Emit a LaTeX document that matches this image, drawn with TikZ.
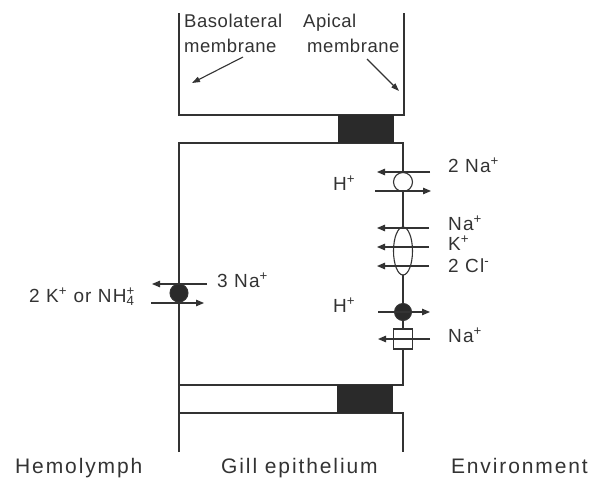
\documentclass[tikz,border=0pt]{standalone}
\usepackage{fontspec}
\setmainfont{Liberation Sans}
\usetikzlibrary{arrows.meta,shapes.geometric}
\definecolor{ink}{HTML}{333333}
\definecolor{junc}{HTML}{2A2A2A}
\newcommand{\sps}[1]{\textsuperscript{#1}}
\begin{document}
\begin{tikzpicture}[x=1pt,y=-1pt,
  line/.style={draw=ink,line width=1.2pt},
  arr/.style={draw=ink,line width=1.1pt,-{Triangle[length=8pt,width=6.5pt]}},
  pointer/.style={draw=ink,line width=1.1pt,-{Triangle[length=8pt,width=5.5pt]}},
  tj/.style={fill=junc},
  lab/.style={inner sep=0pt,text=ink,font=\fontsize{19}{24}\selectfont\addfontfeature{LetterSpace=6}},
  toplab/.style={inner sep=0pt,text=ink,align=left,font=\fontsize{18.5}{25}\selectfont\addfontfeature{LetterSpace=3}},
  botlab/.style={inner sep=0pt,text=ink,font=\fontsize{21}{24}\selectfont\addfontfeature{LetterSpace=9}},
  opencirc/.style={circle,draw=ink,line width=1.1pt,fill=white,minimum size=19pt,inner sep=0pt},
  fullcirc/.style={circle,draw=ink,line width=1pt,fill=junc,minimum size=18pt,inner sep=0pt},
  cotrans/.style={ellipse,draw=ink,line width=1.1pt,fill=white,minimum width=19pt,minimum height=48pt,inner sep=0pt},
  chan/.style={rectangle,draw=ink,line width=1.1pt,fill=white,minimum width=19pt,minimum height=20pt,inner sep=0pt}
]
\path[use as bounding box] (0,0) rectangle (596,479);

% cell outlines
\draw[line] (179,13) -- (179,115) -- (404,115) -- (404,13);
\draw[line] (179,452) -- (179,143) -- (403,143) -- (403,385) -- (179,385);
\draw[line] (179,413) -- (403,413) -- (403,452);
\fill[tj] (338,115) rectangle (394,143);
\fill[tj] (337,385) rectangle (393,413);

% top labels and pointers
\node[toplab,anchor=north west] (baso) at (184,14) {Basolateral\\membrane};
\node[toplab,anchor=north west] (apic) at (303,14) {Apical\\\hspace*{4pt}membrane};
\coordinate (basoend) at (192,83);
\coordinate (apicend) at (399,91);
\draw[pointer] (243,57) -- (basoend);
\draw[pointer] (367,59) -- (apicend);

% apical transporters
\node[cotrans] (nkcc) at (403,251) {};
\node[opencirc] (nhe) at (403,182) {};
\node[fullcirc,minimum size=17pt] (hpump) at (403,312) {};
\node[chan] (enac) at (403,339) {};

\draw[arr] (nhe.center) ++(27,-10) -- ++(-53,0);
\draw[arr] (nhe.center) ++(-28,9) -- ++(56,0);
\draw[arr] (nkcc.center) ++(26,-23) -- ++(-52,0);
\draw[arr] (nkcc.center) ++(26,-4) -- ++(-52,0);
\draw[arr] (nkcc.center) ++(26,15) -- ++(-52,0);
\draw[arr] (hpump.center) ++(-25,0) -- ++(52,0);
\draw[arr] (enac.center) ++(27,0) -- ++(-52,0);

\node[lab,anchor=base west] (na2) at (448,172) {2 Na\sps{+}};
\node[lab,anchor=base west] (h1) at (333,190) {H\sps{+}};
\node[lab,anchor=base west] (na1) at (448,230) {Na\sps{+}};
\node[lab,anchor=base west] (k1) at (448,250) {K\sps{+}};
\node[lab,anchor=base west] (cl2) at (448,272) {2 Cl\sps{-}};
\node[lab,anchor=base west] (h2) at (333,312) {H\sps{+}};
\node[lab,anchor=base west] (na3) at (448,342) {Na\sps{+}};

% basolateral pump
\node[fullcirc] (nak) at (179,293) {};
\draw[arr] (nak.center) ++(28,-9) -- ++(-55,0);
\draw[arr] (nak.center) ++(-28,10) -- ++(53,0);
\node[lab,anchor=base west] (na3b) at (217,287) {3 Na\sps{+}};
\node[lab,anchor=base west] (kor) at (29,302) {2 K\sps{+} or NH\rlap{\sps{+}}\textsubscript{4}};

% bottom labels
\node[botlab,anchor=base west] (hemo) at (15,473) {Hemolymph};
\node[botlab,anchor=base west] (gill) at (221,473) {Gill epithelium};
\node[botlab,anchor=base east] (env) at (588,473) {Environment};
\end{tikzpicture}
\end{document}
